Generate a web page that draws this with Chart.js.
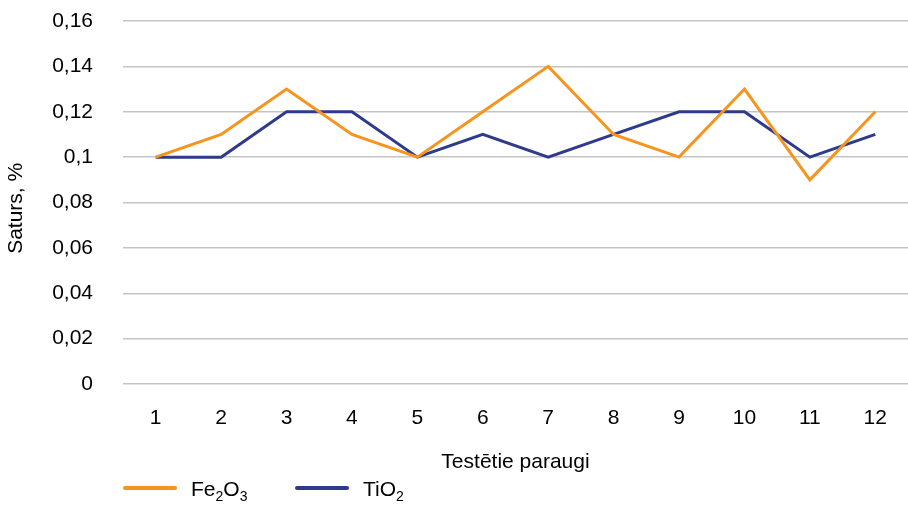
<!DOCTYPE html>
<html>
<head>
<meta charset="utf-8">
<script src="https://cdn.jsdelivr.net/npm/chart.js@4"></script>
<style>
  html, body { margin: 0; padding: 0; background: #fff; }
  #wrap { position: relative; width: 908px; height: 506px; }
  #legend { position: absolute; left: 123px; top: 477px; font-family: "Liberation Sans", Arial, sans-serif; font-size: 21px; color: #000; }
  .item { position: absolute; white-space: nowrap; top: 0; }
  .swatch { display: inline-block; width: 54px; height: 4px; border-radius: 2px; vertical-align: middle; margin-right: 14px; position: relative; top: -2px; }
  sub { font-size: 14px; vertical-align: -5px; }
</style>
</head>
<body>
<div id="wrap">
  <canvas id="chart" width="908" height="506"></canvas>
  <div id="legend"></div>
</div>
<script>
// paraugu numuri
const samples = ['1', '2', '3', '4', '5', '6', '7', '8', '9', '10', '11', '12'];
const fe2o3 = [0.10, 0.11, 0.13, 0.11, 0.10, 0.12, 0.14, 0.11, 0.10, 0.13, 0.09, 0.12];
const tio2 = [0.10, 0.10, 0.12, 0.12, 0.10, 0.11, 0.10, 0.11, 0.12, 0.12, 0.10, 0.11];
const yTicks = [0, 0.02, 0.04, 0.06, 0.08, 0.1, 0.12, 0.14, 0.16];

const orange = '#f7941d';
const blue = '#2e3a8c';
const font = { family: '"Liberation Sans", Arial, sans-serif', size: 21 };

const chart = new Chart(document.getElementById('chart'), {
    type: 'line',
    data: {
        labels: samples,
        datasets: [
            { label: 'Fe2O3', data: fe2o3, borderColor: orange, borderWidth: 3, pointRadius: 0, tension: 0, fill: false },
            { label: 'TiO2', data: tio2, borderColor: blue, borderWidth: 3, pointRadius: 0, tension: 0, fill: false }
        ]
    },
    options: {
        responsive: false,
        animation: false,
        layout: { padding: { top: 21, right: 0, bottom: 31, left: 0 } },
        plugins: { legend: { display: false }, tooltip: { enabled: false } },
        scales: {
            x: {
                offset: true,
                afterFit: (scale) => { scale.height = 506 - 384 - 31; },
                grid: { display: false },
                border: { display: false },
                ticks: { color: '#000', font: font, padding: 14 },
                title: { display: true, text: 'Testētie paraugi', color: '#000', font: font, padding: { top: 12, bottom: 0 } }
            },
            y: {
                min: 0,
                max: 0.16,
                afterBuildTicks: (scale) => { scale.ticks = yTicks.map(v => ({ value: v })); },
                afterFit: (scale) => {
                    scale.width = 123;
                    scale.paddingTop = 0;
                    scale.paddingBottom = 0;
                },
                grid: { color: '#c4c4c4', lineWidth: 1.5, drawTicks: false },
                border: { display: false },
                ticks: {
                    color: '#000', font: font, padding: 30,
                    callback: (v) => String(+v.toFixed(2)).replace('.', ',')
                },
                // atstarpes beigās nobīda virsrakstu nedaudz uz leju
                title: { display: true, text: 'Saturs, %  ', color: '#000', font: font, padding: { top: 4, bottom: 0 } }
            }
        }
    }
});

// leģenda ar apakšindeksiem
const legendItems = [
    { html: 'Fe<sub>2</sub>O<sub>3</sub>', color: orange, left: 0 },
    { html: 'TiO<sub>2</sub>', color: blue, left: 172 }
];
const legend = document.getElementById('legend');
legendItems.forEach(it => {
    const el = document.createElement('span');
    el.className = 'item';
    el.style.left = it.left + 'px';
    el.innerHTML = '<span class="swatch" style="background:' + it.color + '"></span>' + it.html;
    legend.appendChild(el);
});
</script>
</body>
</html>
